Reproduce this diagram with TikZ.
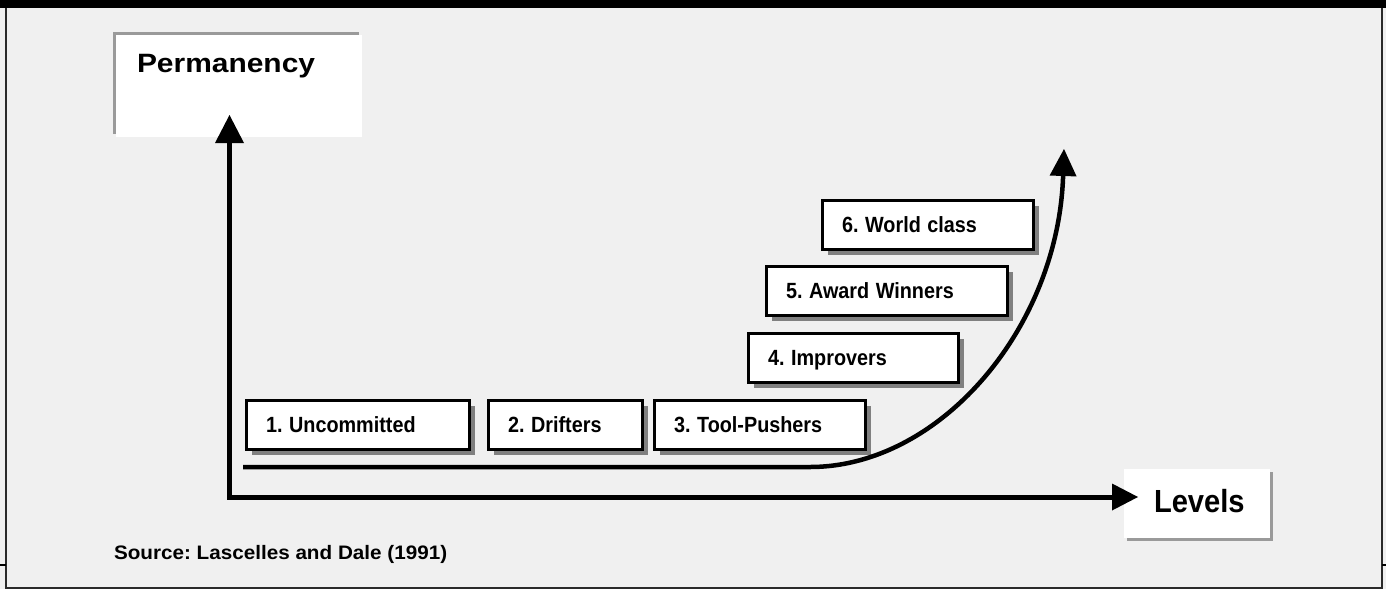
\documentclass[tikz,border=0pt]{standalone}
\usepackage{fontspec}
\setmainfont{Liberation Sans}
\usetikzlibrary{arrows.meta,shadows}

\definecolor{panelgray}{HTML}{F0F0F0}
\definecolor{framegray}{HTML}{2A2A2A}
\definecolor{edgegray}{HTML}{9A9A9A}

% horizontally scaled text
\newcommand{\widthscaled}[2]{\scalebox{#1}[1]{#2}}

\begin{document}
\frenchspacing
\begin{tikzpicture}[x=1pt,y=-1pt,
  every node/.style={inner sep=0pt, outer sep=0pt},
  stepbox/.style={draw=black, line width=3pt, fill=white,
    minimum height=49pt, inner xsep=19.5pt, inner ysep=0pt,
    text width=#1, align=left, text height=14pt, text depth=0pt,
    font=\fontsize{22}{26}\selectfont\bfseries,
    drop shadow={shadow xshift=5pt, shadow yshift=-5pt, fill=black!50, opacity=1}},
  axis/.style={line width=5pt, line join=miter,
    {Triangle[length=28pt,width=29pt,line width=0pt]}-{Triangle[length=26pt,width=27pt,line width=0pt]}},
  growth/.style={line width=4.5pt,
    -{Triangle[length=27pt,width=27pt,line width=0pt]}},
  axislabel/.style={anchor=base west, font=\bfseries}
]
  \useasboundingbox (0,0) rectangle (1386,589);

  % background and frame
  \fill[panelgray] (0,0) rectangle (1386,589);
  \fill[black] (0,0) rectangle (1386,8);
  \draw[framegray, line width=2pt] (6,8) -- (6,588) -- (1382,588) -- (1382,8);
  \draw[black, line width=1.5pt] (0,565) -- (6,565);
  \draw[black, line width=1.5pt] (1382,565) -- (1386,565);

  % axis label panels
  \fill[edgegray] (113,32) rectangle (359,134);
  \fill[white] (116,35) rectangle (362,137);
  \node[axislabel, font=\fontsize{26.5}{30}\selectfont\bfseries] (perm) at (137,72)
    {\widthscaled{1.13}{Permanency}};

  \fill[edgegray] (1127,472) rectangle (1273,541);
  \fill[white] (1124,469) rectangle (1270,538);
  \node[axislabel, font=\fontsize{32}{36}\selectfont\bfseries] (levels) at (1154,512)
    {\widthscaled{0.91}{Levels}};

  % axes
  \coordinate (origin) at (229.5,497);
  \coordinate (ytip) at (229.5,115);
  \coordinate (xtip) at (1138,497);
  \draw[axis] (ytip) -- (origin) -- (xtip);

  % the six levels
  \node[stepbox=184pt] (s1) at (358,425)   {\widthscaled{0.9}{1. Uncommitted}};
  \node[stepbox=115pt] (s2) at (565.5,425) {\widthscaled{0.9}{2. Drifters}};
  \node[stepbox=172pt] (s3) at (760,425)   {\widthscaled{0.9}{3. Tool-Pushers}};
  \node[stepbox=171pt] (s4) at (853.5,358) {\widthscaled{0.9}{4. Improvers}};
  \node[stepbox=202pt] (s5) at (887,291)   {\widthscaled{0.9}{5. Award Winners}};
  \node[stepbox=172pt] (s6) at (928,225)   {\widthscaled{0.9}{6. World class}};

  % growth curve
  \coordinate (cstart) at (243,467);
  \coordinate (cbend) at (810,467);
  \coordinate (ctip) at (1064,149);
  \draw[growth] (cstart) -- (cbend) .. controls (940,467) and (1058,328) .. (ctip);

  % source
  \node[anchor=base west, font=\fontsize{19.5}{22}\selectfont\bfseries] (source) at (114,559.5)
    {\widthscaled{1.06}{Source: Lascelles and Dale (1991)}};
\end{tikzpicture}
\end{document}
